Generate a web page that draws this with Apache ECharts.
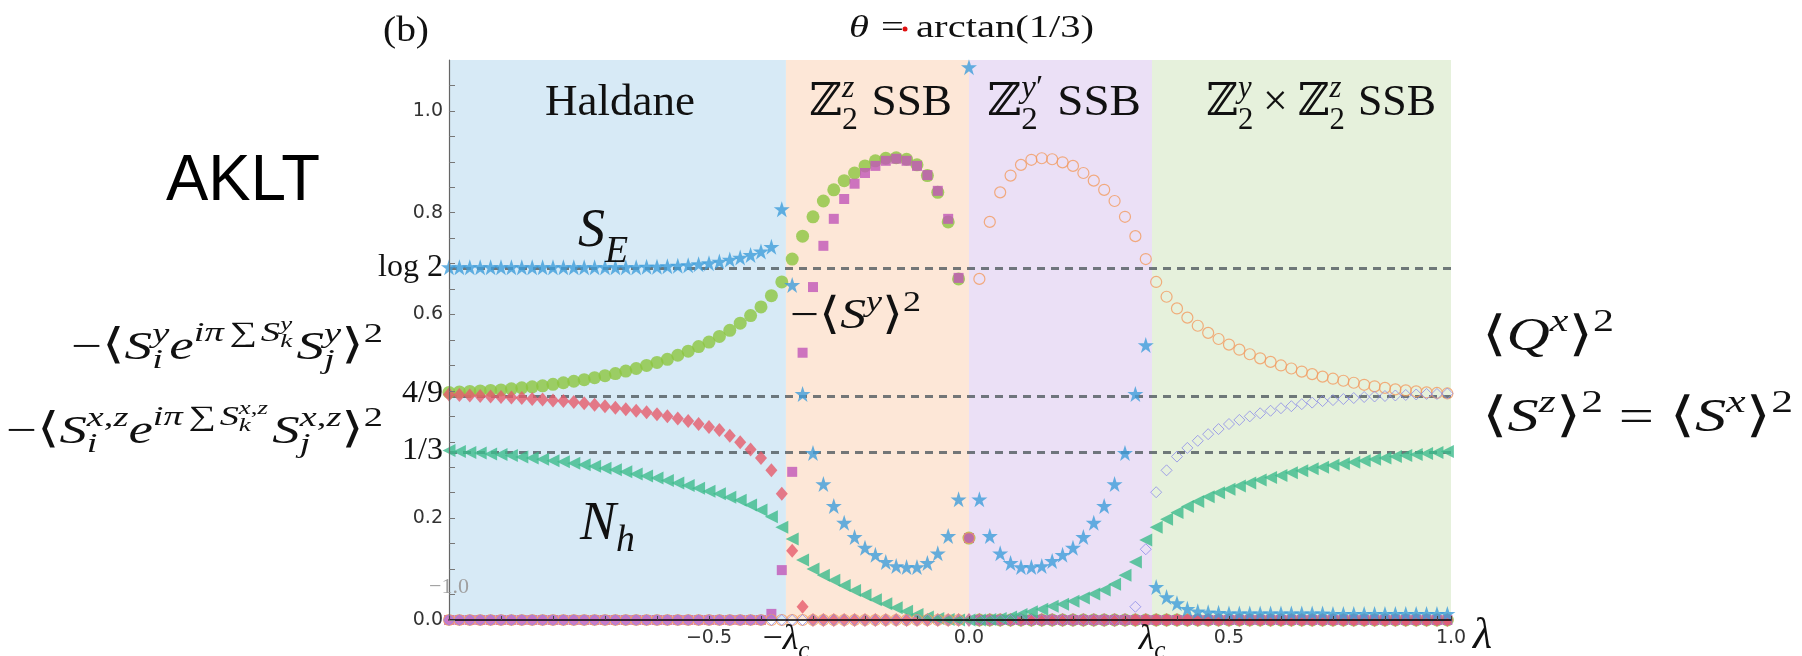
<!DOCTYPE html>
<html><head><meta charset="utf-8">
<script src="https://cdn.jsdelivr.net/npm/echarts@6/dist/echarts.min.js"></script>
<style>html,body{margin:0;padding:0;background:#fff;}#c{width:1802px;height:656px;}</style>
</head><body><div id="c"></div>
<script>
// ---------------- data ----------------
const LAMBDA = [-1.00,-0.98,-0.96,-0.94,-0.92,-0.90,-0.88,-0.86,-0.84,-0.82,
 -0.80,-0.78,-0.76,-0.74,-0.72,-0.70,-0.68,-0.66,-0.64,-0.62,
 -0.60,-0.58,-0.56,-0.54,-0.52,-0.50,-0.48,-0.46,-0.44,-0.42,
 -0.40,-0.38,-0.36,-0.34,-0.32,-0.30,-0.28,-0.26,-0.24,-0.22,
 -0.20,-0.18,-0.16,-0.14,-0.12,-0.10,-0.08,-0.06,-0.04,-0.02,
 0.00,0.02,0.04,0.06,0.08,0.10,0.12,0.14,0.16,0.18,
 0.20,0.22,0.24,0.26,0.28,0.30,0.32,0.34,0.36,0.38,
 0.40,0.42,0.44,0.46,0.48,0.50,0.52,0.54,0.56,0.58,
 0.60,0.62,0.64,0.66,0.68,0.70,0.72,0.74,0.76,0.78,
 0.80,0.82,0.84,0.86,0.88,0.90,0.92];

// entanglement entropy S_E (blue stars)
const S_E = [0.693,0.693,0.693,0.693,0.693,0.693,0.693,0.693,0.693,0.693,
 0.693,0.693,0.693,0.693,0.693,0.693,0.693,0.693,0.693,
 0.694,0.694,0.695,0.696,0.697,0.699,0.701,0.704,0.708,0.712,0.717,0.724,0.733,
 0.807,0.658,
 0.444,0.328,0.267,0.224,0.191,0.163,0.142,0.128,0.114,0.106,0.104,0.104,0.112,0.131,0.165,0.237,
 1.086,
 0.237,0.165,0.131,0.112,0.104,0.104,0.106,0.116,0.128,0.142,0.163,0.191,0.224,0.267,0.328,0.444,0.540,
 0.065,0.045,0.033,0.022,0.017,0.015,0.014,
 0.013,0.013,0.013,0.013,0.013,0.013,0.013,0.013,0.013,0.013,
 0.012,0.012,0.012,0.012,0.012,0.012,0.012,0.012,0.012,0.012,0.012,0.012];

// string order -<S^y e^{i pi sum S^y} S^y>^2 (green filled circles)
const STRING_Y = [0.447,0.448,0.449,0.450,0.451,0.452,0.454,0.456,0.458,0.460,
 0.463,0.466,0.469,0.472,0.476,0.480,0.484,0.489,0.494,0.500,
 0.506,0.512,0.520,0.528,0.537,0.546,0.557,0.569,0.583,0.598,
 0.615,0.637,
 0.664,0.709,0.754,0.792,0.823,0.845,0.863,0.878,0.892,0.902,0.907,0.908,0.905,0.894,0.873,0.840,0.782,0.670,
 0.161,
 0,0,0,0,0,0,0,0,0,0, 0,0,0,0,0,0,0,0,0,0, 0,0,0,0,0,0,0,0,0,0, 0,0,0,0,0,0,0,0,0,0, 0,0,0,0,0,0];

// -<S^y>^2 (magenta squares)
const SY_SQ = [0,0,0,0,0,0,0,0,0,0, 0,0,0,0,0,0,0,0,0,0, 0,0,0,0,0,0,0,0,0,0, 0,
 0.012,0.098,0.291,0.525,0.654,0.735,0.788,0.827,0.857,0.878,0.892,0.902,0.906,0.902,0.892,0.874,0.843,0.788,0.672,
 0.161,
 0,0,0,0,0,0,0,0,0,0, 0,0,0,0,0,0,0,0,0,0, 0,0,0,0,0,0,0,0,0,0, 0,0,0,0,0,0,0,0,0,0, 0,0,0,0,0,0];

// string order -<S^{x,z} e^{i pi sum S^{x,z}} S^{x,z}>^2 (red diamonds)
const STRING_XZ = [0.443,0.442,0.441,0.440,0.439,0.438,0.437,0.436,0.434,0.433,
 0.431,0.430,0.428,0.426,0.423,0.420,0.417,0.414,0.411,0.408,
 0.404,0.400,0.396,0.391,0.385,0.379,0.373,0.362,0.349,0.335,
 0.318,0.294,
 0.248,0.136,0.026,
 0,0,0,0,0,0,0,0,0,0, 0,0,0,0,0,0,0,0,0,0, 0,0,0,0,0,0,0,0,0,0,
 0,0,0,0,0,0,0,0,0,0, 0,0,0,0,0,0,0,0,0,0, 0,0,0,0,0,0,0,0,0,0, 0,0];

// N_h (teal triangles)
const N_H = [0.333,0.331,0.329,0.328,0.326,0.325,0.323,0.320,0.318,0.316,
 0.313,0.311,0.308,0.305,0.302,0.298,0.295,0.291,0.287,0.283,
 0.279,0.274,0.269,0.264,0.259,0.253,0.248,0.241,0.235,0.226,
 0.216,0.203,
 0.182,0.159,0.118,0.100,0.088,0.078,0.068,0.058,0.049,0.040,0.032,0.024,0.017,0.011,0.006,0.003,0.001,0,
 0,
 0,0.001,0.003,0.006,0.011,0.016,0.021,0.027,0.031,0.037,0.043,0.051,0.059,0.070,0.088,0.114,0.157,
 0.182,0.198,0.211,0.223,0.233,0.242,0.250,0.257,0.263,0.269,0.275,0.280,0.284,0.289,0.293,0.297,
 0.300,0.304,0.307,0.310,0.313,0.316,0.318,0.321,0.323,0.325,0.327,0.329,0.331];

// <Q^x>^2 (orange open circles)
const QX_SQ = [0,0,0,0,0,0,0,0,0,0, 0,0,0,0,0,0,0,0,0,0, 0,0,0,0,0,0,0,0,0,0, 0,0,0,0,0,0,0,0,0,0, 0,0,0,0,0,0,0,0,0,0,
 0.161,
 0.670,0.782,0.840,0.873,0.894,0.904,0.907,0.905,0.899,0.892,0.878,0.863,0.845,0.823,0.792,0.754,0.709,
 0.664,0.635,0.612,0.594,0.578,0.564,0.552,0.541,0.531,0.522,0.514,0.507,0.500,0.494,0.488,0.483,
 0.478,0.474,0.470,0.466,0.462,0.459,0.456,0.453,0.451,0.449,0.447,0.446,0.445];

// <S^z>^2 = <S^x>^2 (blue open diamonds)
const SZ_SQ = [0,0,0,0,0,0,0,0,0,0, 0,0,0,0,0,0,0,0,0,0, 0,0,0,0,0,0,0,0,0,0,
 0,0,0,0,0,0,0,0,0,0, 0,0,0,0,0,0,0,0,0,0, 0,0,0,0,0,0,0,0,0,0, 0,0,0,0,0,0,
 0.026,0.139,0.251,0.294,0.321,0.338,0.352,0.365,0.375,0.385,0.393,0.400,0.406,0.411,0.416,0.420,0.424,0.427,
 0.430,0.432,0.434,0.436,0.438,0.439,0.440,0.441,0.442,0.443,0.444,0.444,0.445];

const LAMBDA_C = 0.352;
const X_MAX = 0.927;
const PHASE_EDGES = [-1, -LAMBDA_C, 0, LAMBDA_C, X_MAX];
const PHASE_COLORS = ['#d7eaf6', '#fde7d7', '#ebe0f6', '#e6f1dc'];
const REF_LINES = [Math.LN2, 4/9, 1/3];
const X_LABEL_VALUES = [-0.5, 0, 0.5, X_MAX];
const X_LABEL_TEXT = ['\u22120.5', '0.0', '0.5', '1.0'];
const Y_LABEL_VALUES = [0, 0.2, 0.6, 0.8, 1.0, Math.LN2, 4/9, 1/3];
const Y_LABEL_TEXT = ['0.0', '0.2', '0.6', '0.8', '1.0', 'log 2', '4/9', '1/3'];
const Y_TICKS = [0,0.05,0.1,0.15,0.2,0.25,0.3,0.35,0.4,0.45,0.5,0.55,0.6,0.65,0.7,0.75,0.8,0.85,0.9,0.95,1.0,1.05];

// ---------------- chart ----------------
const SERIF = "'Liberation Serif','DejaVu Serif',serif";
const SANS = "'DejaVu Sans',sans-serif";
const STAR = 'path://M50,0 L61.2,34.5 L97.6,34.5 L68.2,55.9 L79.4,90.5 L50,69.1 L20.6,90.5 L31.8,55.9 L2.4,34.5 L38.8,34.5 Z';
const pairs = vals => LAMBDA.map((x, i) => [x, vals[i]]);

const chart = echarts.init(document.getElementById('c'), null, {renderer: 'canvas'});

function scatter(name, vals, symbol, size, style, extra) {
  return Object.assign({
    name, type: 'scatter', data: pairs(vals), symbol, symbolSize: size,
    itemStyle: style, z: 3, silent: true, clip: false
  }, extra || {});
}

const areas = [];
for (let i = 0; i < PHASE_COLORS.length; i++) {
  areas.push([{xAxis: PHASE_EDGES[i], itemStyle: {color: PHASE_COLORS[i]}}, {xAxis: PHASE_EDGES[i + 1]}]);
}

const option = {
  animation: false,
  backgroundColor: '#ffffff',
  grid: {left: 449, right: 351, top: 60, bottom: 36, containLabel: false, outerBoundsMode: 'none'},
  xAxis: {
    type: 'value', min: -1, max: X_MAX, interval: 0.1, z: 6,
    axisLine: {show: true, onZero: false, lineStyle: {color: '#000', width: 1.5}},
    axisTick: {show: true, inside: true, length: 4, lineStyle: {color: '#444', width: 1}},
    splitLine: {show: false},
    axisLabel: {
      customValues: X_LABEL_VALUES, margin: 9, showMaxLabel: true,
      fontFamily: SANS, fontSize: 19, color: '#333',
      formatter: v => { const i = X_LABEL_VALUES.findIndex(t => Math.abs(t - v) < 1e-6); return i < 0 ? '' : X_LABEL_TEXT[i]; }
    }
  },
  yAxis: {
    type: 'value', min: 0, max: 1.1, z: 6,
    axisLine: {show: true, onZero: false, lineStyle: {color: '#666', width: 1.2}},
    axisTick: {show: true, inside: true, length: 6, customValues: Y_TICKS, lineStyle: {color: '#777', width: 1}},
    splitLine: {show: false},
    axisLabel: {
      customValues: Y_LABEL_VALUES, margin: 6,
      formatter: v => {
        const i = Y_LABEL_VALUES.findIndex(t => Math.abs(t - v) < 1e-6);
        if (i < 0) return '';
        const t = Y_LABEL_TEXT[i];
        return /^[0-9.]+$/.test(t) ? '{n|' + t + '}' : '{s|' + t + '}';
      },
      rich: {
        n: {fontFamily: SANS, fontSize: 19, color: '#333'},
        s: {fontFamily: SERIF, fontSize: 32, color: '#111'}
      }
    }
  },
  series: [
    scatter('string y', STRING_Y, 'circle', 13, {color: '#8cc540'}, {
      markArea: {silent: true, z: 1, data: areas},
      markLine: {
        silent: true, z: 2, symbol: 'none', label: {show: false},
        lineStyle: {type: [8, 6], width: 3, color: 'rgba(80,90,95,0.8)'},
        data: REF_LINES.map(v => ({yAxis: v}))
      }
    }),
    scatter('Sy sq', SY_SQ, 'rect', 10, {color: '#c156b8'}),
    scatter('string xz', STRING_XZ, 'diamond', [12, 14], {color: '#e65b6b'}),
    scatter('N_h', N_H, 'triangle', 13, {color: '#3cbc8c'}, {symbolRotate: 90}),
    scatter('S_E', S_E, STAR, 16, {color: '#3f9edb'}),
    scatter('Qx sq', QX_SQ, 'circle', 11, {color: 'rgba(0,0,0,0)', borderColor: '#f29b60', borderWidth: 1.2}),
    scatter('Sz sq', SZ_SQ, 'diamond', 11, {color: 'rgba(0,0,0,0)', borderColor: '#8c8ce8', borderWidth: 1})
  ]
};
chart.setOption(option);

// ---------------- math-like text helper ----------------
const mctx = document.createElement('canvas').getContext('2d');
function textW(t, size, it, fam) {
  mctx.font = (it ? 'italic ' : 'normal ') + 'normal ' + size + 'px ' + fam;
  return mctx.measureText(t).width;
}
function lay(items, size, x, base, out, color) {
  for (let it of items) {
    if (typeof it === 'string') it = {t: it};
    if (it.sp !== undefined) { x += it.sp * size; continue; }
    if (it.sup || it.sub) {
      const ss = size * (it.scale || 0.7);
      let e = x;
      if (it.sup) e = Math.max(e, lay(it.sup, ss, x + (it.supdx || 0) * size, base - size * (it.up || 0.42), out, color));
      if (it.sub) e = Math.max(e, lay(it.sub, ss, x + (it.subdx || 0) * size, base + size * (it.down || 0.22), out, color));
      x = e; continue;
    }
    const fam = it.f || SERIF;
    const s = size * (it.s || 1);
    out.push({
      type: 'text', x: x, y: base - 0.3 * s + (it.dy || 0) * size, silent: true, z: 50,
      style: {text: it.t, fontSize: s, fontStyle: it.i ? 'italic' : 'normal', fontFamily: fam,
        fill: it.c || color, align: 'left', verticalAlign: 'middle'}
    });
    x += textW(it.t, s, it.i, fam);
  }
  return x;
}
function mathAt(items, size, x, base, opts) {
  opts = opts || {};
  const out = [];
  const w = lay(items, size, 0, 0, out, opts.color || '#111');
  const sx = opts.width ? opts.width / w : 1;
  const fw = w * sx;
  const x0 = opts.align === 'center' ? x - fw / 2 : (opts.align === 'right' ? x - fw : x);
  return {type: 'group', x: x0, y: base, scaleX: sx, silent: true, children: out, z: 50};
}
const I = t => ({t, i: 1});
const LA = {t: '\u27E8', f: "'DejaVu Serif','DejaVu Sans',serif", s: 1.05};
const RA = {t: '\u27E9', f: "'DejaVu Serif','DejaVu Sans',serif", s: 1.05};
const ZZ = {t: '\u2124', f: "'DejaVu Serif','DejaVu Sans',serif"};
const MINUS = '\u2212';
const XZ = [I('x'), ',', I('z')];

const G = [];
G.push(mathAt(['(b)'], 36, 383, 42, {width: 46}));
G.push(mathAt([I('\u03B8'), {sp: 0.3}, '=', {sp: 0.3}, 'arctan(1/3)'], 32, 849, 38, {width: 245}));
G.push({type: 'circle', shape: {cx: 905, cy: 29, r: 2.5}, style: {fill: '#e01010'}, silent: true, z: 60});
G.push(mathAt([{t: 'AKLT', f: "'Liberation Sans',Arial,sans-serif"}], 64, 166, 202, {width: 154, color: '#000'}));

// phase labels
G.push(mathAt(['Haldane'], 45, 545, 117, {width: 150}));
G.push(mathAt([ZZ, {sup: [I('z')], sub: ['2'], down: 0.3}, {sp: 0.3}, 'SSB'], 45, 809, 117, {width: 143}));
G.push(mathAt([ZZ, {sup: [I('y'), '\u2032'], sub: ['2'], down: 0.3}, {sp: 0.3}, 'SSB'], 45, 987, 117, {width: 154}));
G.push(mathAt([ZZ, {sup: [I('y')], sub: ['2'], down: 0.3}, {sp: 0.22}, '\u00D7', {sp: 0.22}, ZZ, {sup: [I('z')], sub: ['2'], down: 0.3}, {sp: 0.3}, 'SSB'], 45, 1206, 117, {width: 230}));

// curve annotations
G.push(mathAt([I('S'), {sub: [I('E')], down: 0.28}], 54, 578, 248));
G.push(mathAt([I('N'), {sub: [I('h')], down: 0.22}], 54, 580, 541));
G.push(mathAt([MINUS, LA, I('S'), {sup: [I('y')]}, RA, {sup: ['2']}], 42, 790, 330, {width: 131}));

// left labels
G.push(mathAt([MINUS, LA, I('S'), {sup: [I('y')], sub: [I('i')]}, I('e'),
  {sup: [I('i'), I('\u03C0'), {sp: 0.15}, '\u2211', {sp: 0.1}, I('S'), {sup: [I('y')], sub: [I('k')]}], up: 0.45},
  {sp: 0.08}, I('S'), {sup: [I('y')], sub: [I('j')]}, RA, {sup: ['2']}], 40, 71, 360, {width: 312}));
G.push(mathAt([MINUS, LA, I('S'), {sup: XZ, sub: [I('i')]}, I('e'),
  {sup: [I('i'), I('\u03C0'), {sp: 0.15}, '\u2211', {sp: 0.1}, I('S'), {sup: XZ, sub: [I('k')]}], up: 0.45},
  {sp: 0.08}, I('S'), {sup: XZ, sub: [I('j')]}, RA, {sup: ['2']}], 40, 6, 444, {width: 377}));

// right labels
G.push(mathAt([LA, I('Q'), {sup: [I('x')]}, RA, {sup: ['2']}], 46, 1482, 352, {width: 132}));
G.push(mathAt([LA, I('S'), {sup: [I('z')]}, RA, {sup: ['2']}, {sp: 0.25}, '=', {sp: 0.25}, LA, I('S'), {sup: [I('x')]}, RA, {sup: ['2']}], 46, 1482, 433, {width: 311}));

// x-axis extra labels
const pxL = chart.convertToPixel({xAxisIndex: 0}, -LAMBDA_C);
const pxR = chart.convertToPixel({xAxisIndex: 0}, LAMBDA_C);
const pxMin = chart.convertToPixel({xAxisIndex: 0}, -1);
const pxMax = chart.convertToPixel({xAxisIndex: 0}, X_MAX);
const py0 = chart.convertToPixel({yAxisIndex: 0}, 0);
G.push(mathAt([MINUS, I('\u03BB'), {sub: [I('c')], down: 0.25}], 36, pxL, py0 + 30, {align: 'center'}));
G.push(mathAt([I('\u03BB'), {sub: [I('c')], down: 0.25}], 36, pxR, py0 + 30, {align: 'center'}));
G.push(mathAt([I('\u03BB')], 44, pxMax + 22, py0 + 30));
G.push(mathAt([MINUS + '1.0'], 22, pxMin, py0 - 26, {align: 'center', color: '#a0a0a0'}));

chart.setOption({graphic: {elements: G}});
</script>
</body></html>
